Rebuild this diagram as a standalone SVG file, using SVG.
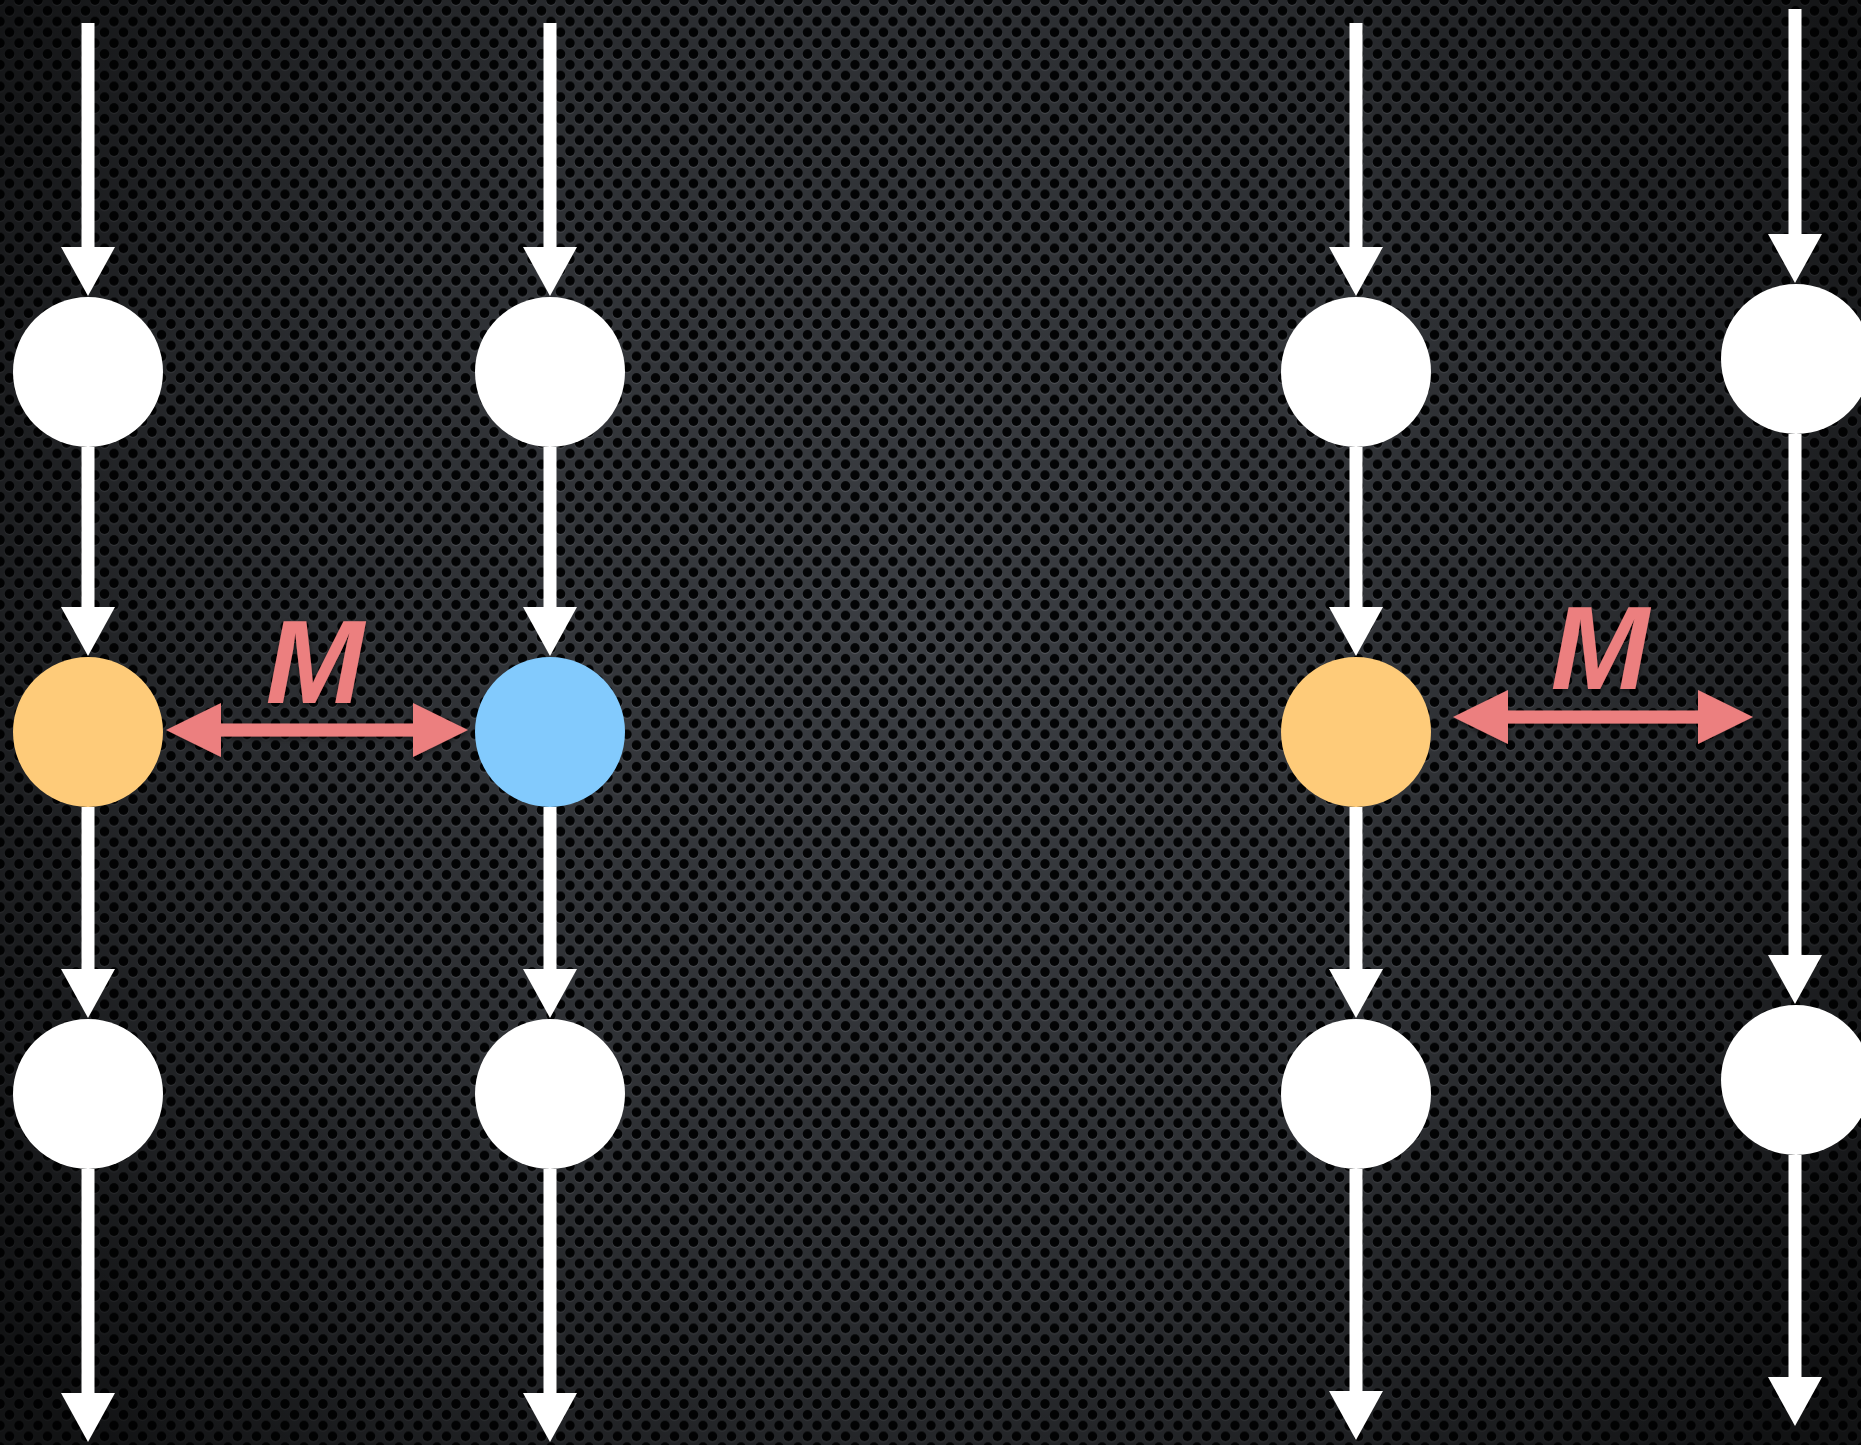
<svg xmlns="http://www.w3.org/2000/svg" width="1861" height="1445" viewBox="0 0 1861 1445">
  <defs>
    <style>
      .flow { stroke: #ffffff; stroke-width: 13; fill: none; }
      .link { stroke: #ec7f7f; stroke-width: 13; fill: none; }
      .plain { fill: #ffffff; }
      .warm { fill: #fecb79; }
      .cool { fill: #82cafd; }
      .label { font-family: "Liberation Sans", Arial, sans-serif; font-weight: bold; font-style: italic; font-size: 118px; fill: #ec7f7f; text-anchor: middle; }
    </style>
    <!-- perforated metal backdrop -->
    <pattern id="mesh" width="19" height="21.6" patternUnits="userSpaceOnUse">
      <rect width="19" height="21.6" fill="#3b3e43"/>
      <g fill="#55585e">
        <circle cx="0" cy="1.2" r="5"/>
        <circle cx="19" cy="1.2" r="5"/>
        <circle cx="0" cy="22.8" r="5"/>
        <circle cx="19" cy="22.8" r="5"/>
        <circle cx="9.5" cy="12" r="5"/>
      </g>
      <g fill="#030405">
        <circle cx="0" cy="0" r="4.8"/>
        <circle cx="19" cy="0" r="4.8"/>
        <circle cx="0" cy="21.6" r="4.8"/>
        <circle cx="19" cy="21.6" r="4.8"/>
        <circle cx="9.5" cy="10.8" r="4.8"/>
      </g>
    </pattern>
    <radialGradient id="shade" cx="930" cy="640" r="1150" gradientUnits="userSpaceOnUse">
      <stop offset="0" stop-color="#000" stop-opacity="0"/>
      <stop offset="0.55" stop-color="#000" stop-opacity="0.25"/>
      <stop offset="1" stop-color="#000" stop-opacity="0.7"/>
    </radialGradient>
    <filter id="soft" x="-20%" y="-20%" width="140%" height="140%">
      <feDropShadow dx="0" dy="2" stdDeviation="2.5" flood-color="#000" flood-opacity="0.6"/>
    </filter>
    <marker id="head" viewBox="0 0 49 54" refX="1" refY="27" markerWidth="49" markerHeight="54" markerUnits="userSpaceOnUse" orient="auto">
      <path d="M0,0 L49,27 L0,54 z" fill="#ffffff"/>
    </marker>
    <marker id="redhead" viewBox="0 0 55 54" refX="1" refY="27" markerWidth="55" markerHeight="54" markerUnits="userSpaceOnUse" orient="auto-start-reverse">
      <path d="M0,0 L55,27 L0,54 z" fill="#ec7f7f"/>
    </marker>
  </defs>

  <rect width="1861" height="1445" fill="url(#mesh)"/>
  <rect width="1861" height="1445" fill="url(#shade)"/>

  <g id="connectors">
    <!-- column 1 -->
    <line class="flow" x1="88" y1="23" x2="88" y2="248" marker-end="url(#head)"/>
    <line class="flow" x1="88" y1="447" x2="88" y2="608" marker-end="url(#head)"/>
    <line class="flow" x1="88" y1="807" x2="88" y2="970" marker-end="url(#head)"/>
    <line class="flow" x1="88" y1="1169" x2="88" y2="1394" marker-end="url(#head)"/>
    <!-- column 2 -->
    <line class="flow" x1="550" y1="23" x2="550" y2="248" marker-end="url(#head)"/>
    <line class="flow" x1="550" y1="447" x2="550" y2="608" marker-end="url(#head)"/>
    <line class="flow" x1="550" y1="807" x2="550" y2="970" marker-end="url(#head)"/>
    <line class="flow" x1="550" y1="1169" x2="550" y2="1394" marker-end="url(#head)"/>
    <!-- column 3 -->
    <line class="flow" x1="1356" y1="23" x2="1356" y2="248" marker-end="url(#head)"/>
    <line class="flow" x1="1356" y1="447" x2="1356" y2="608" marker-end="url(#head)"/>
    <line class="flow" x1="1356" y1="807" x2="1356" y2="970" marker-end="url(#head)"/>
    <line class="flow" x1="1356" y1="1169" x2="1356" y2="1392" marker-end="url(#head)"/>
    <!-- column 4 -->
    <line class="flow" x1="1795" y1="9" x2="1795" y2="235" marker-end="url(#head)"/>
    <line class="flow" x1="1795" y1="434" x2="1795" y2="956" marker-end="url(#head)"/>
    <line class="flow" x1="1795" y1="1155" x2="1795" y2="1378" marker-end="url(#head)"/>
    <!-- mutual links -->
    <g filter="url(#soft)">
      <line class="link" x1="220" y1="730" x2="414" y2="730" marker-start="url(#redhead)" marker-end="url(#redhead)"/>
      <line class="link" x1="1507" y1="717" x2="1699" y2="717" marker-start="url(#redhead)" marker-end="url(#redhead)"/>
      <text class="label" x="315" y="703">M</text>
      <text class="label" x="1600" y="689">M</text>
    </g>
  </g>

  <g id="n1a"><circle class="plain" cx="88" cy="372" r="75"/></g>
  <g id="n1b"><circle class="warm" cx="88" cy="732" r="75"/></g>
  <g id="n1c"><circle class="plain" cx="88" cy="1094" r="75"/></g>

  <g id="n2a"><circle class="plain" cx="550" cy="372" r="75"/></g>
  <g id="n2b"><circle class="cool" cx="550" cy="732" r="75"/></g>
  <g id="n2c"><circle class="plain" cx="550" cy="1094" r="75"/></g>

  <g id="n3a"><circle class="plain" cx="1356" cy="372" r="75"/></g>
  <g id="n3b"><circle class="warm" cx="1356" cy="732" r="75"/></g>
  <g id="n3c"><circle class="plain" cx="1356" cy="1094" r="75"/></g>

  <g id="n4a"><circle class="plain" cx="1796" cy="359" r="75"/></g>
  <g id="n4b"><circle class="plain" cx="1796" cy="1080" r="75"/></g>
</svg>
